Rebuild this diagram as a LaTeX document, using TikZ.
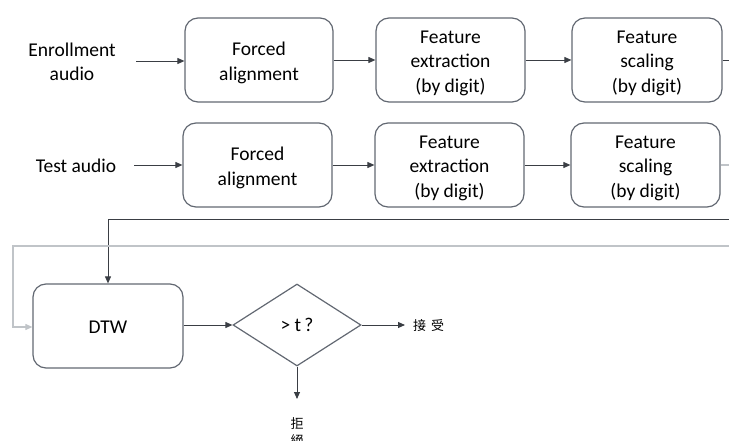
\documentclass[tikz,border=0pt]{standalone}
\usepackage{fontspec}
\setmainfont{Carlito}
\newfontfamily\cjk{Noto Sans CJK TC}
\usetikzlibrary{arrows.meta,shapes.geometric}
\definecolor{boxgray}{RGB}{98,104,114}
\definecolor{linedark}{RGB}{58,62,68}
\definecolor{linelight}{RGB}{192,196,200}
\newcommand\boxtext[1]{\raisebox{0pt}[\dimexpr\height+6pt\relax][\depth]{\begin{tabular}{@{}c@{}}#1\end{tabular}}}
\tikzset{
  procbox/.style={draw=boxgray, line width=1.2pt, rounded corners=13pt, align=center,
    minimum height=84pt, inner sep=0pt, font=\fontsize{19.5}{24.5}\selectfont},
  lbl/.style={align=center, font=\fontsize{19.5}{24.5}\selectfont},
  conn/.style={draw=linedark, line width=0.9pt, -{Triangle[length=7pt,width=6pt]}},
  plainconn/.style={draw=linedark, line width=0.9pt},
  lightconn/.style={draw=linelight, line width=1.1pt},
  cjklbl/.style={font=\cjk\fontsize{13}{17}\selectfont, align=center, inner sep=0pt}
}
\begin{document}
\begin{tikzpicture}[x=1pt,y=-1pt]
\useasboundingbox (0,0) rectangle (729,441);
% labels
\node[lbl] (enr) at (72,62) {Enrollment\\audio};
\node[lbl] (tst) at (76,166) {Test audio};
% row 1
\node[procbox, minimum width=148pt] (b11) at (259,60) {\boxtext{Forced\\alignment}};
\node[procbox, minimum width=149pt] (b12) at (450.5,60) {\boxtext{Feature\\extraction\\(by digit)}};
\node[procbox, minimum width=150pt] (b13) at (647,60) {\boxtext{Feature\\scaling\\(by digit)}};
% row 2
\node[procbox, minimum width=149pt] (b21) at (257.5,165) {\boxtext{Forced\\alignment}};
\node[procbox, minimum width=149pt] (b22) at (449.5,165) {\boxtext{Feature\\extraction\\(by digit)}};
\node[procbox, minimum width=149pt] (b23) at (645.5,165) {\boxtext{Feature\\scaling\\(by digit)}};
% bottom
\node[procbox, minimum width=150pt] (dtw) at (108,326) {\boxtext{DTW}};
\node[draw=boxgray, line width=1.2pt, diamond, aspect=1.56, minimum width=128pt, minimum height=82pt,
  inner sep=0pt, font=\fontsize{19.5}{24.5}\selectfont] (dec) at (297,325) {>~t\,?};
\node[cjklbl, anchor=west] (acc) at (413,326) {接\hspace{5pt}受};
\node[cjklbl, anchor=north] (rej) at (297,417) {拒\\絕};
% coordinates
\coordinate (e1) at (136,61);
\coordinate (e2) at (134,165);
\coordinate (r1) at (729,60);
\coordinate (r2) at (729,165);
\coordinate (d1) at (729,219);
\coordinate (d2) at (108,219);
\coordinate (l1) at (729,246);
\coordinate (l2) at (13,246);
\coordinate (l3) at (13,327);
\coordinate (acc0) at (405,325);
\coordinate (rej0) at (297,399);
% connectors row 1
\draw[conn] (e1) -- (b11.west|-e1);
\draw[conn] (b11) -- (b12);
\draw[conn] (b12) -- (b13);
\draw[plainconn] (b13.east) -- (r1);
% row 2
\draw[conn] (e2) -- (b21.west|-e2);
\draw[conn] (b21) -- (b22);
\draw[conn] (b22) -- (b23);
\draw[lightconn] (b23.east) -- (r2);
% to DTW
\draw[conn] (d1) -- (d2) -- (dtw.north);
\draw[lightconn, -{Triangle[length=7pt,width=6pt]}] (l1) -- (l2) -- (l3) -- (dtw.west|-l3);
\draw[conn] (dtw.east|-dec) -- (dec.west);
\draw[conn] (dec.east) -- (acc0);
\draw[conn] (dec.south) -- (rej0);
\end{tikzpicture}
\end{document}
